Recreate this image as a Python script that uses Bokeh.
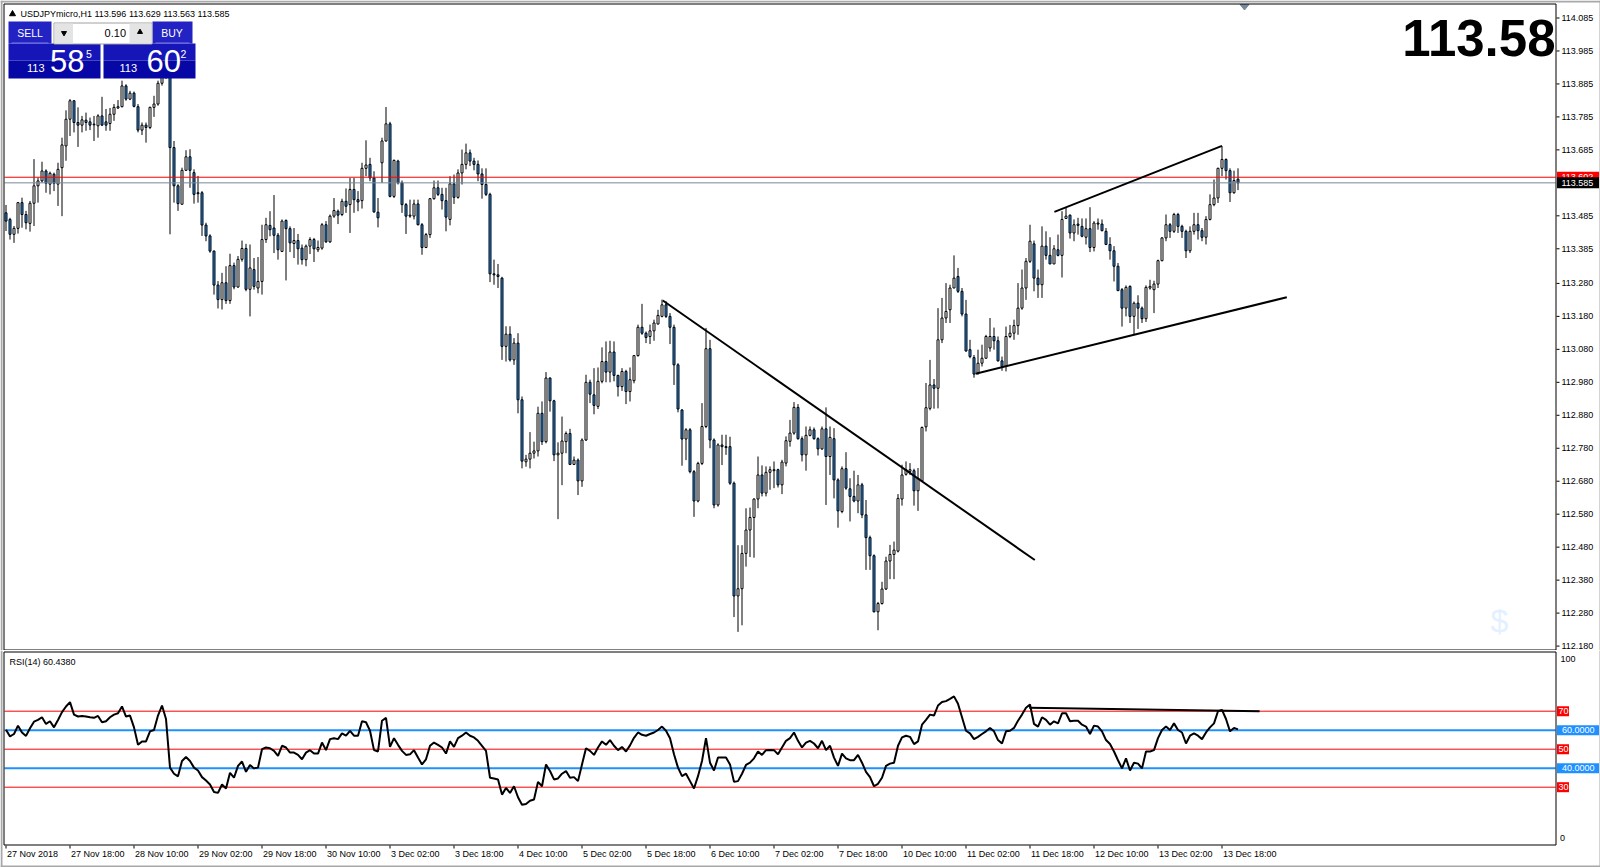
from bokeh.plotting import figure
from bokeh.models import Range1d
from bokeh.layouts import column
from bokeh.core.properties import value
from bokeh.embed import file_html
from bokeh.resources import INLINE

# ---------------- data (USDJPYmicro, H1) ----------------
opens = [113.494,113.474,113.429,113.447,113.525,113.489,113.462,113.523,113.576,113.591,
 113.621,113.581,113.611,113.581,113.631,113.697,113.778,113.834,113.768,113.760,
 113.775,113.770,113.763,113.758,113.788,113.770,113.765,113.793,113.812,113.816,
 113.879,113.839,113.857,113.816,113.745,113.760,113.753,113.814,113.824,113.887,
 113.935,113.920,113.692,113.576,113.520,113.623,113.664,113.616,113.555,113.555,
 113.457,113.424,113.378,113.275,113.231,113.282,113.228,113.334,113.269,113.353,
 113.386,113.262,113.322,113.266,113.286,113.413,113.456,113.448,113.426,113.377,
 113.471,113.446,113.401,113.410,113.387,113.352,113.393,113.413,113.382,113.387,
 113.458,113.406,113.484,113.499,113.489,113.529,113.519,113.565,113.534,113.531,
 113.629,113.641,113.600,113.496,113.646,113.712,113.764,113.544,113.651,113.585,
 113.519,113.484,113.484,113.521,113.458,113.389,113.428,113.537,113.570,113.550,
 113.531,113.474,113.582,113.541,113.615,113.641,113.676,113.651,113.641,113.612,
 113.580,113.550,113.309,113.306,113.296,113.089,113.126,113.048,113.099,112.927,
 112.739,112.747,112.765,112.772,112.886,112.800,112.993,112.924,112.760,112.765,
 112.800,112.825,112.731,112.744,112.681,112.805,112.980,112.942,112.907,112.983,
 113.043,113.011,113.072,113.001,112.967,113.013,112.952,112.985,113.061,113.147,
 113.129,113.119,113.136,113.157,113.180,113.215,113.180,113.147,113.033,112.896,
 112.808,112.836,112.709,112.620,112.734,112.846,113.082,112.805,112.608,112.790,
 112.785,112.785,112.674,112.332,112.354,112.461,112.532,112.570,112.626,112.699,
 112.644,112.707,112.712,112.715,112.669,112.735,112.801,112.826,112.904,112.809,
 112.760,112.819,112.836,112.809,112.778,112.839,112.755,112.809,112.684,112.588,
 112.718,112.657,112.634,112.620,112.669,112.578,112.509,112.454,112.284,112.309,
 112.353,112.438,112.458,112.468,112.626,112.701,112.710,112.712,112.651,112.681,
 112.845,112.901,112.972,112.962,113.109,113.175,113.200,113.266,113.301,113.256,
 113.187,113.079,113.055,113.008,113.038,113.053,113.084,113.119,113.106,113.045,
 113.028,113.119,113.129,113.152,113.205,113.266,113.347,113.400,113.296,113.276,
 113.393,113.365,113.339,113.382,113.365,113.477,113.487,113.433,113.460,113.453,
 113.420,113.446,113.389,113.463,113.460,113.438,113.398,113.379,113.332,113.261,
 113.205,113.271,113.180,113.220,113.205,113.173,113.266,113.261,113.278,113.349,
 113.418,113.458,113.438,113.489,113.453,113.438,113.379,113.438,113.458,113.440,
 113.420,113.474,113.519,113.539,113.629,113.656,113.622,113.555,113.596]
highs = [113.518,113.479,113.454,113.527,113.540,113.500,113.530,113.657,113.601,113.649,
 113.626,113.619,113.616,113.646,113.722,113.805,113.839,113.836,113.814,113.788,
 113.798,113.783,113.788,113.793,113.846,113.809,113.812,113.824,113.836,113.895,
 113.884,113.864,113.862,113.824,113.768,113.768,113.816,113.849,113.895,113.960,
 113.975,113.930,113.712,113.581,113.631,113.684,113.687,113.626,113.606,113.560,
 113.464,113.429,113.380,113.287,113.312,113.332,113.370,113.343,113.363,113.410,
 113.400,113.398,113.357,113.360,113.458,113.479,113.499,113.548,113.433,113.474,
 113.474,113.453,113.448,113.430,113.398,113.398,113.420,113.418,113.410,113.463,
 113.469,113.489,113.539,113.504,113.537,113.568,113.600,113.600,113.560,113.646,
 113.714,113.661,113.620,113.539,113.722,113.815,113.770,113.656,113.655,113.592,
 113.524,113.534,113.534,113.534,113.463,113.433,113.539,113.592,113.592,113.570,
 113.570,113.605,113.610,113.626,113.686,113.704,113.686,113.661,113.653,113.629,
 113.629,113.555,113.352,113.339,113.300,113.150,113.150,113.114,113.129,112.937,
 112.760,112.829,112.800,112.906,112.922,113.011,112.995,112.927,112.798,112.876,
 112.831,112.839,112.755,112.749,112.810,113.003,112.988,113.023,113.025,113.086,
 113.104,113.106,113.104,113.003,113.023,113.018,113.025,113.063,113.155,113.218,
 113.134,113.155,113.170,113.200,113.231,113.226,113.190,113.155,113.038,112.899,
 112.841,112.841,112.714,112.739,112.917,113.145,113.109,112.810,112.795,112.821,
 112.821,112.815,112.679,112.486,112.486,112.598,112.600,112.628,112.755,112.728,
 112.725,112.725,112.740,112.718,112.745,112.816,112.866,112.920,112.914,112.816,
 112.846,112.846,112.843,112.813,112.846,112.904,112.846,112.841,112.689,112.725,
 112.768,112.689,112.712,112.699,112.675,112.623,112.515,112.458,112.314,112.375,
 112.451,112.487,112.497,112.641,112.730,112.740,112.735,112.718,112.720,112.846,
 112.978,113.048,112.990,113.205,113.236,113.281,113.276,113.365,113.327,113.266,
 113.230,113.109,113.063,113.079,113.094,113.124,113.175,113.146,113.119,113.058,
 113.149,113.154,113.170,113.281,113.322,113.357,113.458,113.410,113.322,113.453,
 113.438,113.420,113.396,113.428,113.499,113.509,113.489,113.474,113.479,113.477,
 113.477,113.511,113.469,113.477,113.474,113.448,113.420,113.393,113.342,113.266,
 113.274,113.274,113.225,113.244,113.210,113.274,113.291,113.288,113.352,113.420,
 113.489,113.463,113.494,113.494,113.458,113.443,113.453,113.494,113.494,113.448,
 113.484,113.550,113.595,113.631,113.696,113.659,113.629,113.622,113.629]
lows = [113.439,113.413,113.403,113.431,113.449,113.444,113.437,113.454,113.525,113.586,
 113.555,113.550,113.560,113.515,113.484,113.652,113.727,113.738,113.694,113.738,
 113.743,113.745,113.712,113.722,113.758,113.743,113.743,113.773,113.809,113.814,
 113.834,113.836,113.814,113.738,113.730,113.707,113.748,113.785,113.819,113.880,
 113.900,113.429,113.525,113.500,113.520,113.621,113.570,113.522,113.525,113.424,
 113.408,113.373,113.246,113.204,113.201,113.218,113.218,113.262,113.267,113.346,
 113.256,113.180,113.261,113.250,113.246,113.403,113.423,113.372,113.352,113.375,
 113.289,113.375,113.357,113.337,113.337,113.332,113.369,113.345,113.375,113.382,
 113.403,113.403,113.479,113.460,113.484,113.494,113.433,113.494,113.499,113.507,
 113.605,113.590,113.494,113.450,113.585,113.710,113.541,113.539,113.580,113.494,
 113.430,113.479,113.474,113.456,113.367,113.387,113.418,113.534,113.545,113.504,
 113.438,113.456,113.521,113.537,113.580,113.626,113.636,113.623,113.590,113.537,
 113.545,113.284,113.276,113.266,113.048,113.043,113.043,113.033,112.886,112.719,
 112.724,112.719,112.749,112.755,112.790,112.795,112.891,112.741,112.565,112.668,
 112.765,112.729,112.729,112.638,112.663,112.802,112.917,112.883,112.899,112.977,
 112.980,112.980,112.983,112.937,112.954,112.914,112.922,112.977,113.058,113.124,
 113.099,113.096,113.106,113.155,113.177,113.175,113.096,112.972,112.889,112.727,
 112.744,112.704,112.572,112.616,112.729,112.841,112.780,112.598,112.603,112.729,
 112.760,112.669,112.268,112.223,112.243,112.421,112.450,112.448,112.598,112.634,
 112.634,112.654,112.659,112.661,112.641,112.725,112.785,112.821,112.806,112.740,
 112.712,112.816,112.806,112.758,112.775,112.608,112.699,112.628,112.539,112.583,
 112.654,112.558,112.616,112.583,112.568,112.411,112.411,112.282,112.228,112.306,
 112.350,112.383,112.383,112.464,112.606,112.697,112.699,112.606,112.590,112.679,
 112.831,112.895,112.900,112.901,113.099,113.160,113.160,113.266,113.251,113.180,
 113.073,113.053,112.994,113.003,113.028,113.053,113.073,113.079,113.043,113.015,
 113.013,113.114,113.109,113.124,113.200,113.230,113.342,113.256,113.236,113.236,
 113.352,113.339,113.339,113.362,113.298,113.477,113.416,113.408,113.428,113.420,
 113.398,113.375,113.377,113.443,113.438,113.396,113.352,113.286,113.258,113.149,
 113.180,113.160,113.126,113.142,113.160,113.163,113.261,113.190,113.266,113.347,
 113.408,113.418,113.433,113.433,113.418,113.357,113.372,113.428,113.413,113.408,
 113.398,113.471,113.514,113.524,113.605,113.595,113.527,113.552,113.563]
closes = [113.469,113.429,113.447,113.525,113.489,113.464,113.523,113.576,113.591,113.621,
 113.584,113.614,113.584,113.626,113.700,113.778,113.834,113.768,113.760,113.776,
 113.768,113.760,113.761,113.788,113.760,113.760,113.793,113.814,113.816,113.879,
 113.839,113.857,113.817,113.745,113.760,113.753,113.814,113.824,113.887,113.935,
 113.920,113.692,113.576,113.522,113.623,113.664,113.623,113.550,113.552,113.457,
 113.424,113.378,113.275,113.231,113.282,113.228,113.334,113.269,113.353,113.386,
 113.262,113.327,113.271,113.286,113.413,113.458,113.443,113.426,113.382,113.469,
 113.446,113.403,113.410,113.385,113.352,113.393,113.413,113.385,113.389,113.458,
 113.406,113.484,113.501,113.487,113.529,113.514,113.565,113.534,113.527,113.629,
 113.639,113.600,113.497,113.479,113.712,113.764,113.544,113.653,113.585,113.519,
 113.484,113.487,113.521,113.458,113.389,113.428,113.537,113.570,113.550,113.531,
 113.481,113.582,113.541,113.615,113.641,113.676,113.651,113.641,113.612,113.580,
 113.550,113.309,113.306,113.301,113.089,113.126,113.048,113.099,112.927,112.741,
 112.747,112.765,112.772,112.886,112.800,112.993,112.924,112.760,112.765,112.802,
 112.825,112.731,112.744,112.681,112.805,112.980,112.944,112.910,112.983,113.043,
 113.011,113.072,113.001,112.967,113.013,112.952,112.988,113.061,113.147,113.129,
 113.116,113.136,113.160,113.183,113.215,113.180,113.147,113.033,112.899,112.808,
 112.836,112.709,112.620,112.734,112.846,113.082,112.805,112.608,112.790,112.785,
 112.782,112.674,112.332,112.354,112.461,112.532,112.570,112.626,112.699,112.644,
 112.707,112.715,112.715,112.669,112.738,112.803,112.826,112.904,112.809,112.760,
 112.819,112.836,112.809,112.778,112.839,112.755,112.813,112.684,112.590,112.718,
 112.659,112.634,112.620,112.669,112.578,112.509,112.454,112.284,112.309,112.353,
 112.438,112.458,112.471,112.628,112.699,112.715,112.715,112.651,112.689,112.843,
 112.903,112.972,112.962,113.109,113.175,113.195,113.266,113.296,113.256,113.187,
 113.075,113.058,113.005,113.038,113.053,113.119,113.119,113.106,113.045,113.028,
 113.119,113.129,113.152,113.205,113.266,113.347,113.408,113.296,113.276,113.393,
 113.365,113.339,113.385,113.365,113.474,113.484,113.433,113.458,113.456,113.423,
 113.446,113.389,113.463,113.460,113.440,113.398,113.379,113.332,113.258,113.205,
 113.268,113.180,113.220,113.205,113.173,113.268,113.271,113.278,113.349,113.418,
 113.458,113.438,113.489,113.453,113.438,113.379,113.438,113.458,113.440,113.420,
 113.474,113.519,113.539,113.629,113.656,113.622,113.555,113.592,113.585]
rsi = [60.3,56.7,58,62.4,58.8,57,61,64.5,65.4,66.8,63.3,64.7,61.5,65.4,69.5,72.5,74.8,68.2,67.2,67.5,
 67.2,66.8,66.5,67.5,64.2,64.7,66.8,68.2,68.9,72.5,67.2,67.7,61.5,52.3,54.1,54.1,59.4,60.1,67.7,73,
 65.9,40.3,37.1,35.7,43.8,45.9,43.8,40.3,38.8,35.3,33.5,31.4,27.5,27,31.4,29.3,37.6,35,41.2,43.5,
 38.1,41.7,39.9,40.3,50,50.9,50.5,49.1,46.5,51.8,50.9,48.2,48.2,47,44.7,48.2,49.5,47.7,47.7,53.5,
 49.5,55.3,55.8,55.3,58.3,57.1,59.7,57.1,57.1,64.7,64.2,59.7,49.5,48.8,65,66.5,51.2,55.8,52.3,49.1,
 47,47.3,49.5,45.6,42,44.7,51.8,53.5,52.3,50.9,47.7,54.1,51.2,55.8,57.1,58.8,57.1,56.2,54.4,51.8,
 49.1,35,34.6,34.1,26.1,29.6,27,30.5,24.7,20.8,21.2,22.9,23.5,32.8,30.5,42,38.5,34.1,34.6,37.1,
 38.5,35,35.3,33.2,42,50.5,49.1,47,50.9,54.1,52.3,54.8,51.8,49.5,51.2,48.8,52,56,58.8,57.6,
 57.1,58,58.8,60.1,61.9,59.7,55.8,47.3,40.3,35.8,37.1,33.2,29.3,35.8,43.8,55.8,42.9,38.8,45.6,45.6,
 45.6,42,32.8,33.2,37.1,41.7,42.9,45.2,48.8,47,49.5,49.6,49.5,47.3,50.9,54.4,55.8,58.8,54.4,50.9,
 53.5,54.4,53,50.5,54.4,49.5,51.8,45.6,41.2,47.7,45.2,44.2,44.2,47,42.9,38.1,35.3,30.5,31.8,35,
 41.2,42.4,42.9,51.8,56.2,57.1,56.5,52.7,54.1,62.9,65.4,68.2,67.7,73,74.8,75.3,76.5,77.8,73.9,66.8,
 59.7,58.3,55.3,56.5,58,59.4,61.2,59.4,54.8,53,59.4,59.7,61.2,65,68.2,71.8,73.5,63.3,61.9,66.8,
 65.4,62.9,64.7,63.6,68.9,68.9,64.7,65,65,62.9,61.9,58,62.4,61.9,59.4,54.8,52.7,48.8,44.2,39.9,
 45.2,38.8,42.9,42.4,39.9,48.8,48.8,49.5,55.8,60.1,61.9,60.1,63.6,60.1,58.8,53,57.1,58.3,57.1,55.3,
 58.8,61.5,63.6,70,70.7,65.9,59.4,61.2,60.438]

time_tick_bars = [0,16,32,48,64,80,96,112,128,144,160,176,192,208,224,240,256,272,288,304]
time_tick_labels = ["27 Nov 2018","27 Nov 18:00","28 Nov 10:00","29 Nov 02:00","29 Nov 18:00",
 "30 Nov 10:00","3 Dec 02:00","3 Dec 18:00","4 Dec 10:00","5 Dec 02:00","5 Dec 18:00",
 "6 Dec 10:00","7 Dec 02:00","7 Dec 18:00","10 Dec 10:00","11 Dec 02:00","11 Dec 18:00",
 "12 Dec 10:00","13 Dec 02:00","13 Dec 18:00"]
price_ticks = [114.085,113.985,113.885,113.785,113.685,113.485,113.385,113.280,113.180,
 113.080,112.980,112.880,112.780,112.680,112.580,112.480,112.380,112.280,112.180]
price_tick_labels = ["114.085","113.985","113.885","113.785","113.685","113.485",
 "113.385","113.280","113.180","113.080","112.980","112.880","112.780","112.680","112.580",
 "112.480","112.380","112.280","112.180"]

ask_price = 113.602
bid_price = 113.585
last_big = "113.58"
title_text = "USDJPYmicro,H1  113.596 113.629 113.563 113.585"
rsi_title = "RSI(14) 60.4380"
rsi_levels_red = [70, 50, 30]
rsi_levels_blue = [60, 40]

# trend lines: (bar index, price) anchors
trend_down = ([164.2, 257.2], [113.228, 112.441])
trend_up_upper = ([262.1, 304.0], [113.497, 113.697])
trend_up_lower = ([242.4, 320.2], [113.006, 113.238])
rsi_trend = ([255.8, 313.4], [71.8, 70.0])

# ---------------- reference-pixel helpers (for decorations only) ----------------
def X(px):
    return (px - 5.5) / 4.0

def Y(py):
    return 114.085 - (py - 17.5) / 329.7

def V(py):
    return 70 - (py - 710.7) / 1.9

FONT = "Liberation Sans"
BLUE = "#1E90FF"
GREY = "#A8A8A8"
n = len(closes)
idx = list(range(n))

xr = Range1d(X(0), X(1600))


def make_fig(h, yr):
    f = figure(width=1600, height=h, x_range=xr, y_range=yr, output_backend="svg",
               toolbar_location=None, title_location=None, x_axis_location=None,
               y_axis_location=None, min_border=0, min_border_left=0, min_border_right=0,
               min_border_top=0, min_border_bottom=0)
    f.outline_line_color = None
    f.background_fill_color = "white"
    f.border_fill_color = "white"
    for g in f.grid:
        g.visible = False
    return f


def txt(f, xs, ys, texts, size, color="black", align="left", baseline="middle", style="normal"):
    f.text(x=xs, y=ys, text=texts, text_align=align, text_baseline=baseline,
           text_font=value(FONT), text_font_size=size, text_color=color, text_font_style=style)


# ================= main price panel =================
p = make_fig(650, Range1d(Y(650), Y(0)))

# watermark "$"
txt(p, [X(1499)], [Y(620)], ["$"], "32px", color="#E3F0FF", align="center")

# candles
tops = [max(o, c) for o, c in zip(opens, closes)]
bots = [min(o, c) for o, c in zip(opens, closes)]
fills = ["white" if c >= o else BLUE for o, c in zip(opens, closes)]
p.segment(x0=idx, y0=lows, x1=idx, y1=highs, line_color="black", line_width=1)
p.vbar(x=idx, width=0.5, top=tops, bottom=bots, fill_color=fills, line_color="black", line_width=1)

# bid / ask lines
p.segment(x0=[X(4)], y0=[ask_price], x1=[X(1555)], y1=[ask_price], line_color="red", line_width=1)
p.segment(x0=[X(4)], y0=[bid_price], x1=[X(1555)], y1=[bid_price], line_color="#778899", line_width=1)

# trend lines
for tl in (trend_down, trend_up_upper, trend_up_lower):
    p.line(x=tl[0], y=tl[1], line_color="black", line_width=2)

# chart shift marker
p.patch(x=[X(1239.5), X(1248.5), X(1244)], y=[Y(4), Y(4), Y(9.5)], color="#778899")

# title line
p.scatter(x=[X(12)], y=[Y(13.5)], marker="triangle", size=6, color="black")
txt(p, [X(20)], [Y(13.3)], [title_text], "9px")

# big last price
txt(p, [X(1555)], [Y(37.5)], [last_big], "51px", align="right", style="bold")

# one-click trading panel
def box(x0, x1, y0, y1, color, line=None):
    p.quad(left=[X(x0)], right=[X(x1)], top=[Y(y0)], bottom=[Y(y1)], fill_color=color,
           line_color=line, line_width=1)

box(8, 51, 21, 43, "#2323C4")
box(8, 100, 43, 60, "#1515B8")
box(8, 100, 60, 78, "#0707A6")
box(152, 192, 21, 43, "#2323C4")
box(103, 195, 43, 60, "#1515B8")
box(103, 195, 60, 78, "#0707A6")
box(53.5, 151.5, 22.5, 43.5, "white", "#A0A0A0")
box(54, 72.5, 23, 43, "#E4E4E4")
box(129, 151, 23, 43, "#E4E4E4")
p.segment(x0=[X(11), X(155)], y0=[Y(42.5)] * 2, x1=[X(48), X(189)], y1=[Y(42.5)] * 2,
          line_color="#7A7AE8", line_width=1)
p.scatter(x=[X(63.5)], y=[Y(32.5)], marker="inverted_triangle", size=5, color="black")
p.scatter(x=[X(139.5)], y=[Y(31.5)], marker="triangle", size=5, color="black")

txt(p, [X(29.5)], [Y(32.5)], ["SELL"], "10.5px", color="white", align="center")
txt(p, [X(171.5)], [Y(32.5)], ["BUY"], "10.5px", color="white", align="center")
txt(p, [X(125.5)], [Y(32.5)], ["0.10"], "11px", align="right")
txt(p, [X(26.5), X(119)], [Y(67.5), Y(67.5)], ["113", "113"], "11px", color="white")
txt(p, [X(49.5), X(146)], [Y(60.5), Y(60.5)], ["58", "60"], "31px", color="white")
txt(p, [X(85.5), X(180)], [Y(53), Y(53)], ["5", "2"], "10.5px", color="white")

# frame borders
p.segment(x0=[X(3.5), X(3.5), X(1555.5), X(3.5)], y0=[Y(3.5), Y(3.5), Y(3.5), Y(649.5)],
          x1=[X(1555.5), X(3.5), X(1555.5), X(1555.5)], y1=[Y(3.5), Y(649.5), Y(649.5), Y(649.5)],
          line_color="black", line_width=1)
# window edge
p.segment(x0=[X(0), X(1), X(1599.5)], y0=[Y(1), Y(0), Y(0)], x1=[X(1600), X(1), X(1599.5)],
          y1=[Y(1), Y(650), Y(650)], line_color=[GREY, GREY, GREY], line_width=[2, 2, 1])

# price scale
p.segment(x0=[X(1556)] * len(price_ticks), y0=price_ticks, x1=[X(1559)] * len(price_ticks),
          y1=price_ticks, line_color="black", line_width=1)
txt(p, [X(1561)] * len(price_ticks), price_ticks, price_tick_labels, "9px")

half = 5.5 / 329.7
p.quad(left=[X(1556.5)], right=[X(1598.5)], top=[ask_price + half], bottom=[ask_price - half],
       fill_color="red", line_color=None)
txt(p, [X(1561)], [ask_price], ["%.3f" % ask_price], "9px", color="white")
p.quad(left=[X(1556.5)], right=[X(1598.5)], top=[bid_price + half], bottom=[bid_price - half],
       fill_color="black", line_color=None)
txt(p, [X(1561)], [bid_price], ["%.3f" % bid_price], "9px", color="white")

# ================= RSI panel =================
r = make_fig(217, Range1d(V(867), V(650)))

for lv in rsi_levels_red:
    r.segment(x0=[X(4)], y0=[lv], x1=[X(1555)], y1=[lv], line_color="red", line_width=1)
for lv in rsi_levels_blue:
    r.segment(x0=[X(4)], y0=[lv], x1=[X(1555)], y1=[lv], line_color=BLUE, line_width=2)

r.line(x=idx, y=rsi, line_color="black", line_width=2)
r.line(x=rsi_trend[0], y=rsi_trend[1], line_color="black", line_width=2)

txt(r, [X(9)], [V(661)], [rsi_title], "9px")

# frame borders
r.segment(x0=[X(3.5), X(1555.5), X(3.5), X(3.5)], y0=[V(651.5), V(651.5), V(844.5), V(651.5)],
          x1=[X(1555.5), X(1555.5), X(1555.5), X(3.5)], y1=[V(651.5), V(844.5), V(844.5), V(844.5)],
          line_color="black", line_width=1)
# window edge
r.segment(x0=[X(1), X(1599.5), X(0)], y0=[V(650), V(650), V(866)], x1=[X(1), X(1599.5), X(1600)],
          y1=[V(867), V(867), V(866)], line_color=[GREY, GREY, GREY], line_width=[2, 1, 2])

# right scale of RSI
vh = 5.0 / 1.9
for lv in rsi_levels_red:
    r.quad(left=[X(1556.5)], right=[X(1568.5)], top=[lv + vh], bottom=[lv - vh],
           fill_color="red", line_color=None)
    txt(r, [X(1558)], [lv], [str(lv)], "9px", color="white")
for lv in rsi_levels_blue:
    r.quad(left=[X(1556.5)], right=[X(1598.5)], top=[lv + vh], bottom=[lv - vh],
           fill_color=BLUE, line_color=None)
    txt(r, [X(1561.5)], [lv], ["%.4f" % lv], "9px", color="white")
txt(r, [X(1560)], [V(658.5)], ["100"], "9px")
txt(r, [X(1559.5)], [V(837)], ["0"], "9px")

# time scale
tick_x = list(time_tick_bars)
r.segment(x0=tick_x, y0=[V(845)] * len(tick_x), x1=tick_x, y1=[V(848)] * len(tick_x),
          line_color="black", line_width=1)
label_x = [b + 0.25 for b in time_tick_bars]
txt(r, label_x, [V(853)] * len(label_x), time_tick_labels, "9px")

layout = column(p, r, spacing=0)
open("out.html", "w").write(file_html(layout, INLINE))
